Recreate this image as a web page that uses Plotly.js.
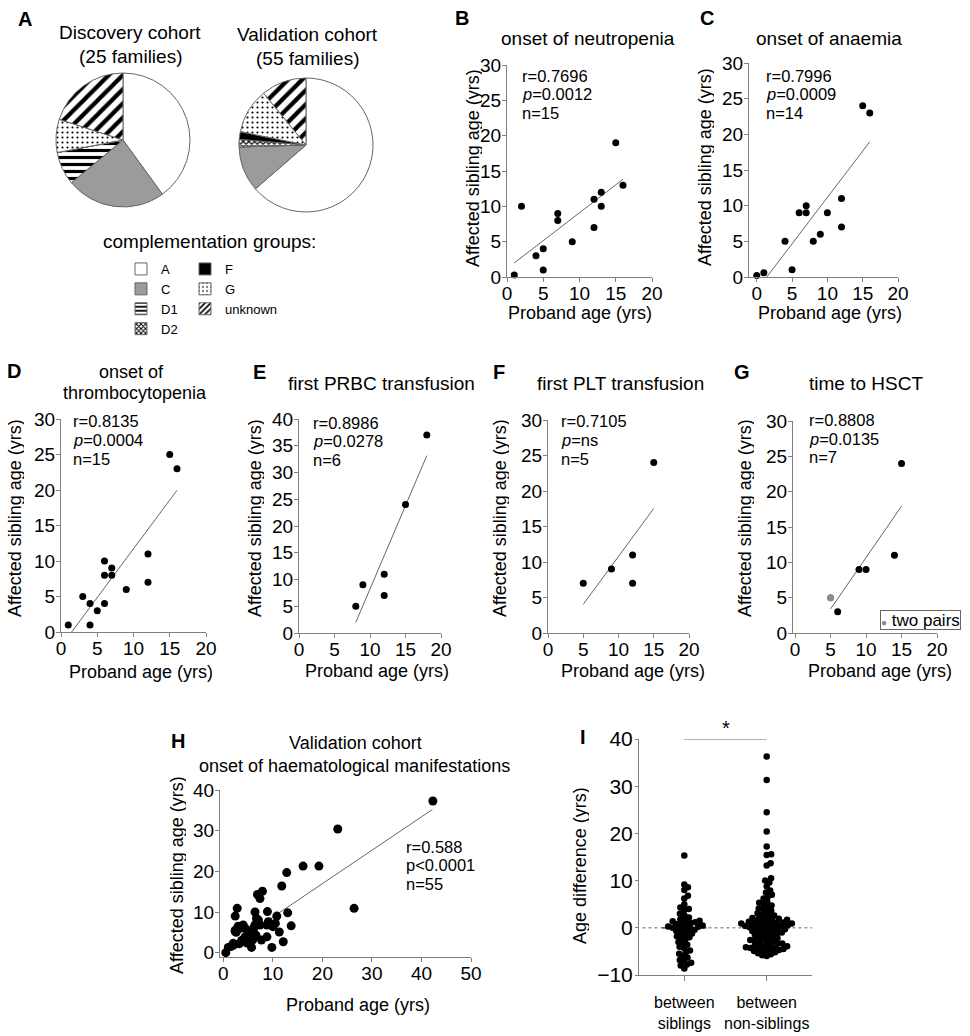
<!DOCTYPE html>
<html><head><meta charset="utf-8">
<script src="https://cdn.plot.ly/plotly-3.0.1.min.js"></script>
<style>html,body{margin:0;padding:0;background:#fff}#chart{width:970px;height:1036px}</style>
</head><body><div id="chart"></div><script>
// ---------------- DATA ----------------
const groupLabels = ['A','C','D1','D2','F','G','unknown'];
const discoveryCounts = [10,6,2,0,0,2,5];
const validationCounts = [35,6,0,1,1,6,6];

const neutropeniaProband = [1,2,4,5,5,7,7,9,12,12,13,13,15,16];
const neutropeniaSibling = [0.3,10,3,4,1,9,8,5,11,7,12,10,19,13];
const anaemiaProband = [0,1,4,5,6,7,7,8,9,10,12,12,15,16];
const anaemiaSibling = [0.2,0.6,5,1,9,10,9,5,6,9,11,7,24,23];
const thrombProband = [1,3,4,4,5,6,6,6,7,7,9,12,12,15,16];
const thrombSibling = [1,5,4,1,3,4,8,10,9,8,6,11,7,25,23];
const prbcProband = [8,9,12,12,15,18];
const prbcSibling = [5,9,11,7,24,37];
const pltProband = [5,9,12,12,15];
const pltSibling = [7,9,11,7,24];
const hsctProband = [6,9,10,14,15];
const hsctSibling = [3,9,9,11,24];
const hsctTwoPairsProband = [5,5];
const hsctTwoPairsSibling = [5,5];

const validationProband = [0.5,1,1.5,2,2.4,2.4,2.8,2.4,3.0,2.6,3.4,4.0,4.4,3.7,4.4,4.7,5.4,5.7,6.1,6.4,6.7,6.4,6.9,7.4,7.9,7.1,5.9,5.7,6.6,7.4,7.7,8.8,8.9,8.8,9.1,9.8,10.0,10.8,10.5,11.3,12.1,11.8,12.8,13.0,13.7,16.1,19.3,23.1,26.4,42.3,3.2,4.9,5.2,6.0,2.0];
const validationSibling = [0,1.3,1.5,2.3,9.0,5.5,10.9,5.2,6.5,5.0,6.0,6.8,6.0,3.0,3.9,2.4,4.7,5.1,6.0,6.8,8.4,10.0,14.3,13.3,15.1,8.0,3.1,1.3,4.3,6.8,3.1,3.9,10.1,6.8,7.6,1.3,6.4,9.0,7.2,5.1,2.7,16.4,19.7,9.8,6.6,21.3,21.3,30.4,10.9,37.3,2.2,4.2,3.4,5.5,1.8];
// regression line of panel H (proband age, sibling age at both ends)
const validationFitProband = [0.3, 42.2];
const validationFitSibling = [0.8, 35.2];

const diffCategories = ['between<br>siblings','between<br>non-siblings'];
const siblingDiff = [15.3,9.2,8.6,8.0,6.8,6.2,5.0,4.3,4.0,3.8,3.0,2.7,2.2,1.8,1.6,1.5,1.4,1.2,1.0,0.9,0.8,0.6,0.5,0.3,0.2,0.1,0.0,0.0,-0.2,-0.4,-0.6,-0.8,-1.0,-1.2,-1.5,-1.8,-2.0,-2.2,-2.5,-3.0,-3.3,-3.6,-4.0,-4.3,-4.8,-5.2,-5.5,-6.0,-6.3,-6.8,-7.0,-7.4,-7.8,-8.0,-8.6];
const nonSiblingDiff = [36.3,31.3,24.5,20.4,17.2,15.6,15.4,13.7,13.2,10.5,10.0,9.6,8.8,7.9,7.5,7.0,6.6,6.2,5.6,5.3,5.0,4.7,4.4,4.1,3.9,3.6,3.3,3.1,2.8,2.6,
 2.4,2.2,2.0,1.9,1.7,1.6,1.5,1.3,1.2,1.1,1.0,0.9,0.8,0.7,0.6,0.5,0.4,0.3,0.2,0.1,
 0.0,-0.1,-0.2,-0.4,-0.5,-0.7,-0.8,-1.0,-1.1,-1.3,-1.5,-1.6,-1.8,-2.0,-2.2,-2.3,-2.5,-2.7,-2.8,-3.0,
 -3.1,-3.3,-3.4,-3.5,-3.7,-3.8,-3.9,-4.0,-4.1,-4.2,-4.3,-4.4,-4.5,-4.6,-4.8,-4.9,-5.0,-5.2,-5.4,-5.6,
 -5.8,-6.0,1.4,0.6,-0.3,2.1,-1.2,0.9,-2.6,-4.7];

const statsB = ['r=0.7696','<i>p</i>=0.0012','n=15'];
const statsC = ['r=0.7996','<i>p</i>=0.0009','n=14'];
const statsD = ['r=0.8135','<i>p</i>=0.0004','n=15'];
const statsE = ['r=0.8986','<i>p</i>=0.0278','n=6'];
const statsF = ['r=0.7105','<i>p</i>=ns','n=5'];
const statsG = ['r=0.8808','<i>p</i>=0.0135','n=7'];
const statsH = ['r=0.588','p<0.0001','n=55'];

// ---------------- STYLE ----------------
const W = 970, H = 1036;
const FONT = 'Liberation Sans, Arial, Helvetica, sans-serif';
const AX = '#808080';
const groupColors = ['#ffffff','#9b9b9b','#ffffff','#ffffff','#000000','#ffffff','#ffffff'];
const groupPatterns = ['','','-','x','','.','/'];
const groupPatternSize = [8,8,7,4,8,5,10];
const groupSolidity = [0.3,0.3,0.45,0.5,0.3,0.15,0.42];

const fx = p => p / W;
const fy = p => 1 - p / H;

function fit(xs, ys) {
  const n = xs.length;
  const mx = xs.reduce((a,b)=>a+b,0)/n, my = ys.reduce((a,b)=>a+b,0)/n;
  let sxy = 0, sxx = 0;
  for (let i=0;i<n;i++){ sxy += (xs[i]-mx)*(ys[i]-my); sxx += (xs[i]-mx)**2; }
  const b = sxy/sxx, a = my - b*mx;
  const x0 = Math.min(...xs), x1 = Math.max(...xs);
  return {x:[x0,x1], y:[a+b*x0, a+b*x1]};
}
function median(v){ const s=[...v].sort((a,b)=>a-b); const m=s.length>>1; return s.length%2?s[m]:(s[m-1]+s[m])/2; }

function swarm(values, center, yScale, xScale, d) {
  const idx = values.map((v,i)=>i).sort((a,b)=>values[a]-values[b]);
  const placed = []; const xs = new Array(values.length);
  idx.forEach((i,k) => {
    const y = values[i]*yScale;
    const near = placed.filter(p => Math.abs(p.y-y) < d);
    const cands = [0];
    near.forEach(p => { const dx = Math.sqrt(d*d-(p.y-y)**2); cands.push(p.x+dx, p.x-dx); });
    cands.sort((a,b)=>Math.abs(a)-Math.abs(b) || (k%2 ? a-b : b-a));
    let chosen = 0;
    for (const c of cands) { if (near.every(p => (p.x-c)**2+(p.y-y)**2 >= d*d-1e-6)) { chosen = c; break; } }
    placed.push({x:chosen, y}); xs[i] = center + chosen/xScale;
  });
  return xs;
}

function axis(dom, range, dtick, isX, extra) {
  return Object.assign({
    domain: isX ? [fx(dom[0]), fx(dom[1])] : [fy(dom[1]), fy(dom[0])],
    range, dtick, tick0: 0, showline: true, linecolor: AX, linewidth: 1,
    ticks: 'outside', ticklen: 4, tickcolor: AX, tickwidth: 1, showgrid: false, zeroline: false,
    tickfont: {size: 19, color: '#000', family: FONT}, fixedrange: true,
    ticklabelstandoff: isX ? -5 : -3
  }, extra || {});
}

const traces = [];
function addFit(f, xa, ya) {
  traces.push({type:'scatter', mode:'lines', x:f.x, y:f.y, xaxis:xa, yaxis:ya, line:{color:'#666', width:1}, showlegend:false, hoverinfo:'skip'});
}
function addPoints(xs, ys, xa, ya, size, color, name) {
  traces.push({type:'scatter', mode:'markers', x:xs, y:ys, xaxis:xa, yaxis:ya, cliponaxis:false, marker:{color:color||'#000', size:size}, showlegend:false, name:name||''});
}
function scatterPanel(xs, ys, xa, ya, size) { addFit(fit(xs, ys), xa, ya); addPoints(xs, ys, xa, ya, size); }

// pies
const pieCommon = {type:'pie', labels:groupLabels, sort:false, direction:'clockwise', rotation:0, textinfo:'none', showlegend:false,
  marker:{colors:groupColors, line:{color:'#666', width:1},
    pattern:{shape:groupPatterns, fgcolor:'#000', bgcolor:groupColors, size:groupPatternSize, solidity:groupSolidity}}};
traces.push(Object.assign({}, pieCommon, {values:discoveryCounts, domain:{x:[fx(56),fx(190)], y:[fy(207),fy(73)]}}));
traces.push(Object.assign({}, pieCommon, {values:validationCounts, domain:{x:[fx(239),fx(373)], y:[fy(212),fy(78)]}}));

// legend entries for complementation groups (zero-height bars on a hidden axis)
groupLabels.forEach((g,i) => {
  traces.push({type:'bar', x:[g], y:[0], name:g, xaxis:'x9', yaxis:'y9', legend: i<4 ? 'legend' : 'legend2', hoverinfo:'skip',
    marker:{color:groupColors[i], line:{color:'#666', width:1},
      pattern:{shape:groupPatterns[i], fgcolor:'#000', bgcolor:groupColors[i], size:Math.min(groupPatternSize[i],5), solidity:groupSolidity[i]}}});
});

scatterPanel(neutropeniaProband, neutropeniaSibling, 'x', 'y', 7);
scatterPanel(anaemiaProband, anaemiaSibling, 'x2', 'y2', 7);
scatterPanel(thrombProband, thrombSibling, 'x3', 'y3', 7);
scatterPanel(prbcProband, prbcSibling, 'x4', 'y4', 7);
scatterPanel(pltProband, pltSibling, 'x5', 'y5', 7);
addFit(fit(hsctProband.concat(hsctTwoPairsProband), hsctSibling.concat(hsctTwoPairsSibling)), 'x6', 'y6');
addPoints(hsctProband, hsctSibling, 'x6', 'y6', 7);
addPoints(hsctTwoPairsProband, hsctTwoPairsSibling, 'x6', 'y6', 7, '#8a8a8a', 'two pairs');
addFit({x:validationFitProband, y:validationFitSibling}, 'x7', 'y7');
addPoints(validationProband, validationSibling, 'x7', 'y7', 9);

// I: beeswarm
const iDom = {x:[639,812], y:[739,975]};
const iXR = [-0.55, 1.55], iYR = [-10, 40];
const iYScale = (iDom.y[1]-iDom.y[0])/(iYR[1]-iYR[0]);
const iXScale = (iDom.x[1]-iDom.x[0])/(iXR[1]-iXR[0]);
[siblingDiff, nonSiblingDiff].forEach((vals, c) => {
  const m = median(vals);
  traces.push({type:'scatter', mode:'lines', x:[c-0.27, c+0.27], y:[m, m], xaxis:'x8', yaxis:'y8', line:{color:'#333', width:1.2}, showlegend:false, hoverinfo:'skip'});
  addPoints(swarm(vals, c, iYScale, iXScale, 4.6), vals, 'x8', 'y8', 6.5, '#000', diffCategories[c].replace('<br>',' '));
});

// ---------------- LAYOUT ----------------
const legendBase = {xanchor:'left', yanchor:'top', font:{size:13,family:FONT,color:'#000'}, itemwidth:30, tracegroupgap:0,
  bgcolor:'rgba(0,0,0,0)', itemclick:false, itemdoubleclick:false, traceorder:'normal'};
const layout = {
  width: W, height: H, margin:{l:0,r:0,t:0,b:0}, paper_bgcolor:'#fff', plot_bgcolor:'rgba(0,0,0,0)',
  font:{family:FONT, color:'#000'}, showlegend:true, hovermode:'closest',
  xaxis: axis([507,652],[0,20],5,true,{anchor:'y'}),
  yaxis: axis([65,277],[0,30],5,false,{anchor:'x'}),
  xaxis2: axis([749,898],[-1.1,20],5,true,{anchor:'y2'}),
  yaxis2: axis([63,277],[0,30],5,false,{anchor:'x2'}),
  xaxis3: axis([61,206],[0,20],5,true,{anchor:'y3'}),
  yaxis3: axis([419,632],[0,30],5,false,{anchor:'x3'}),
  xaxis4: axis([299,441],[0,20],5,true,{anchor:'y4'}),
  yaxis4: axis([419,633],[0,40],5,false,{anchor:'x4'}),
  xaxis5: axis([548,689],[0,20],5,true,{anchor:'y5'}),
  yaxis5: axis([420,633],[0,30],5,false,{anchor:'x5'}),
  xaxis6: axis([793,937],[-0.3,20],5,true,{anchor:'y6'}),
  yaxis6: axis([421,633],[0,30],5,false,{anchor:'x6'}),
  xaxis7: axis([220,471],[-0.67,50],10,true,{anchor:'y7'}),
  yaxis7: axis([790,957],[-1.06,40],10,false,{anchor:'x7'}),
  xaxis8: axis(iDom.x, iXR, 1, true, {anchor:'y8', tickmode:'array', tickvals:[0,1], ticktext:diffCategories, ticklen:5,
    tickfont:{size:16,color:'#000',family:FONT}, ticklabelstandoff:8}),
  yaxis8: axis(iDom.y, iYR, 10, false, {anchor:'x8', ticklen:3, tickfont:{size:21,color:'#000',family:FONT}, ticklabelstandoff:-2}),
  xaxis9: {domain:[0,0.001], visible:false, fixedrange:true, type:'category'},
  yaxis9: {domain:[0,0.001], visible:false, fixedrange:true, range:[1,2], anchor:'x9'},
  legend: Object.assign({x:fx(121), y:fy(254)}, legendBase),
  legend2: Object.assign({x:fx(185), y:fy(254)}, legendBase),
  shapes: [
    {type:'line', xref:'x8 domain', yref:'y8', x0:0.02, x1:1, y0:0, y1:0, line:{color:'#999', width:1.5, dash:'dot'}, layer:'below'},
    {type:'line', xref:'x8', yref:'y8', x0:0, x1:1, y0:40, y1:40, line:{color:'#666', width:1}}
  ],
  annotations: []
};

function ann(text, x, y, size, o) {
  return Object.assign({text, x:fx(x), y:fy(y), xref:'paper', yref:'paper', showarrow:false,
    font:{size, color:'#000', family:FONT}, xanchor:'center', yanchor:'middle'}, o || {});
}
const A = layout.annotations;
[['A',25,19],['B',462,18],['C',707,18],['D',14,371],['E',259,372],['F',499,372],['G',742,372],['H',178,741],['I',583,737]]
  .forEach(([t,x,y]) => A.push(ann('<b>'+t+'</b>', x, y, 20)));
A.push(ann('Discovery cohort', 130, 32, 19, {height:23}));
A.push(ann('(25 families)', 130, 56, 19, {height:23}));
A.push(ann('Validation cohort', 307, 34, 19, {height:23}));
A.push(ann('(55 families)', 307, 58, 19, {height:23}));
A.push(ann('complementation groups:', 209, 241, 19));
A.push(ann('onset of neutropenia', 588, 39, 19));
A.push(ann('onset of anaemia', 829, 39, 19));
A.push(ann('onset of', 131, 371, 18, {height:21}));
A.push(ann('thrombocytopenia', 135, 392.5, 18, {height:21}));
A.push(ann('first PRBC transfusion', 381, 383, 19));
A.push(ann('first PLT transfusion', 620, 383, 19));
A.push(ann('time to HSCT', 866, 383, 19));
A.push(ann('Validation cohort', 355, 743, 18, {height:22}));
A.push(ann('onset of haematological manifestations', 354, 766, 18, {height:22}));
function stats(lines, x, y0, size) { lines.forEach((t,i) => A.push(ann(t, x, y0 + i*18.5, size, {xanchor:'left', height:18.5}))); }
stats(statsB, 520, 76.5, 16.5);
stats(statsC, 764, 76.5, 16.5);
stats(statsD, 71, 422, 16.5);
stats(statsE, 311, 423, 16.5);
stats(statsF, 559, 422, 16.5);
stats(statsG, 807, 420.5, 16.5);
stats(statsH, 404, 847, 16.5);
const yT = 'Affected sibling age (yrs)', xT = 'Proband age (yrs)';
[[472,168],[705,167],[14,518],[254,518],[499,518],[744,518],[176,875]].forEach(([x,y]) => A.push(ann(yT, x, y, 18, {textangle:-90, height:19})));
[[580,313],[830,313],[141,672],[377,671],[633,671],[880,671],[358,1005]].forEach(([x,y]) => A.push(ann(xT, x, y, 18)));
A.push(ann('Age difference (yrs)', 579, 866, 18, {textangle:-90, height:19}));
A.push(ann('*', 726, 728, 20));
A.push(ann('<span style="color:#8a8a8a;font-size:10px">●</span> two pairs', 920, 619.5, 17,
  {bordercolor:'#666', borderwidth:1, borderpad:0, bgcolor:'#fff', height:18}));

Plotly.newPlot('chart', traces, layout, {displayModeBar:false});
</script></body></html>
